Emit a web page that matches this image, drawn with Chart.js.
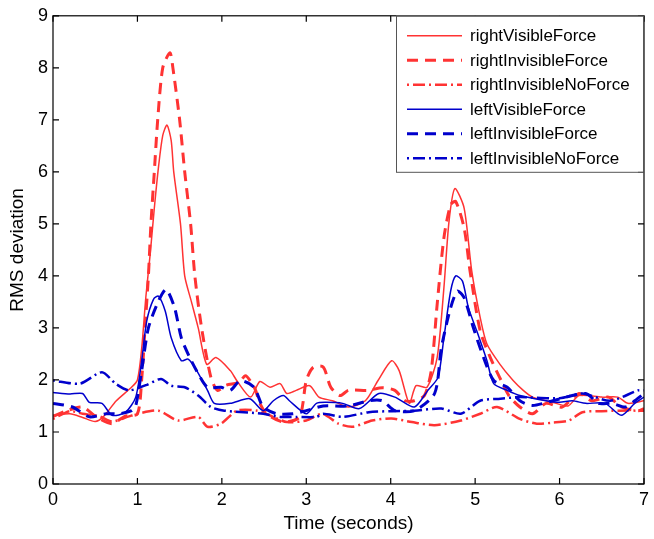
<!DOCTYPE html>
<html>
<head>
<meta charset="utf-8">
<script src="https://cdn.jsdelivr.net/npm/chart.js@4.4.0/dist/chart.umd.min.js"></script>
<style>
html, body { margin: 0; padding: 0; background: #fff; }
</style>
</head>
<body>
<canvas id="chart" width="654" height="539"></canvas>
<script>
// tick values
const xTicks = [0, 1, 2, 3, 4, 5, 6, 7];
const yTicks = [0, 1, 2, 3, 4, 5, 6, 7, 8, 9];

// series names
const seriesNames = ['rightVisibleForce', 'rightInvisibleForce', 'rightInvisibleNoForce',
                     'leftVisibleForce', 'leftInvisibleForce', 'leftInvisibleNoForce'];

// rightVisibleForce
const rvfT = [0, 0.2, 0.35, 0.5, 0.6, 0.75, 0.93, 1.0, 1.05, 1.1, 1.15, 1.2, 1.25, 1.3, 1.35, 1.4, 1.43, 1.51, 1.56, 1.64, 1.72, 1.82, 1.93, 2.1, 2.18, 2.34, 2.45, 2.57, 2.69, 2.77, 2.88, 3.04, 3.15, 3.31, 3.5, 3.7, 3.85, 4.01, 4.1, 4.22, 4.3, 4.43, 4.55, 4.63, 4.69, 4.76, 4.87, 4.96, 5.06, 5.14, 5.29, 5.45, 5.57, 5.68, 5.92, 6.1, 6.23, 6.5, 6.69, 6.81, 7];
const rvfV = [1.32, 1.35, 1.28, 1.2, 1.3, 1.6, 1.86, 2.0, 2.6, 3.6, 4.4, 5.3, 6.1, 6.7, 6.9, 6.6, 6.0, 5.0, 4.0, 3.5, 3.0, 2.3, 2.43, 2.18, 1.98, 1.67, 1.97, 1.86, 1.93, 1.74, 1.8, 1.89, 1.67, 1.6, 1.48, 1.6, 1.99, 2.37, 2.18, 1.55, 1.89, 1.86, 2.43, 3.77, 5.04, 5.68, 5.3, 4.09, 3.2, 2.69, 2.31, 1.99, 1.8, 1.67, 1.57, 1.5, 1.7, 1.67, 1.67, 1.55, 1.6];

// rightInvisibleForce
const rifT = [0, 0.15, 0.35, 0.51, 0.7, 0.85, 1.0, 1.05, 1.09, 1.13, 1.16, 1.2, 1.24, 1.3, 1.385, 1.42, 1.5, 1.56, 1.63, 1.68, 1.76, 1.87, 1.95, 2.05, 2.2, 2.28, 2.35, 2.4, 2.45, 2.53, 2.73, 2.92, 3.0, 3.08, 3.2, 3.29, 3.4, 3.5, 3.73, 3.9, 4.05, 4.17, 4.28, 4.4, 4.48, 4.55, 4.63, 4.71, 4.77, 4.87, 4.94, 5.06, 5.18, 5.29, 5.4, 5.53, 5.68, 5.84, 6.03, 6.23, 6.38, 6.58, 6.73, 6.93, 7];
const rifV = [1.3, 1.4, 1.48, 1.29, 1.16, 1.3, 1.35, 2.0, 3.0, 4.0, 5.0, 6.0, 7.0, 8.0, 8.29, 8.0, 7.0, 6.0, 5.0, 4.0, 3.0, 2.05, 1.8, 1.9, 1.95, 2.08, 1.95, 1.8, 1.55, 1.35, 1.19, 1.29, 1.99, 2.24, 2.25, 1.86, 1.7, 1.8, 1.8, 1.85, 1.8, 1.6, 1.6, 1.7, 2.18, 3.45, 4.73, 5.37, 5.43, 4.92, 4.09, 2.94, 2.43, 2.05, 1.7, 1.48, 1.35, 1.55, 1.48, 1.74, 1.6, 1.67, 1.48, 1.41, 1.45];

// rightInvisibleNoForce
const rinT = [0, 0.2, 0.35, 0.55, 0.7, 0.9, 1.0, 1.25, 1.48, 1.72, 1.83, 1.99, 2.18, 2.42, 2.61, 2.77, 3.0, 3.19, 3.38, 3.55, 3.78, 4.01, 4.25, 4.52, 4.83, 5.06, 5.26, 5.53, 5.73, 5.92, 6.11, 6.27, 6.5, 6.7, 7];
const rinV = [1.25, 1.4, 1.35, 1.3, 1.2, 1.3, 1.35, 1.41, 1.22, 1.29, 1.1, 1.16, 1.41, 1.41, 1.29, 1.19, 1.22, 1.35, 1.16, 1.1, 1.22, 1.26, 1.19, 1.13, 1.22, 1.35, 1.48, 1.25, 1.16, 1.18, 1.22, 1.38, 1.4, 1.41, 1.41];

// leftVisibleForce
const lvfT = [0, 0.2, 0.35, 0.43, 0.58, 0.7, 0.86, 0.98, 1.05, 1.11, 1.19, 1.25, 1.33, 1.4, 1.52, 1.6, 1.68, 1.83, 1.91, 2.1, 2.33, 2.49, 2.61, 2.73, 2.8, 3.0, 3.12, 3.23, 3.43, 3.63, 3.86, 4.05, 4.28, 4.44, 4.56, 4.63, 4.71, 4.77, 4.85, 4.92, 5.02, 5.14, 5.22, 5.38, 5.53, 5.84, 6.0, 6.15, 6.31, 6.54, 6.73, 6.89, 7];
const lvfV = [1.76, 1.73, 1.74, 1.57, 1.55, 1.32, 1.38, 1.67, 2.37, 3.13, 3.55, 3.61, 3.32, 2.81, 2.37, 2.4, 2.24, 1.8, 1.55, 1.55, 1.64, 1.41, 1.6, 1.7, 1.6, 1.35, 1.55, 1.57, 1.55, 1.45, 1.74, 1.67, 1.48, 1.8, 2.05, 2.81, 3.71, 4.0, 3.9, 3.39, 2.94, 2.37, 1.93, 1.8, 1.7, 1.6, 1.57, 1.6, 1.55, 1.55, 1.32, 1.55, 1.67];

// leftInvisibleForce
const lifT = [0, 0.23, 0.43, 0.63, 0.78, 0.93, 0.98, 1.05, 1.13, 1.25, 1.34, 1.44, 1.52, 1.62, 1.72, 1.83, 1.99, 2.1, 2.22, 2.38, 2.49, 2.65, 2.84, 3.0, 3.2, 3.5, 3.74, 3.9, 4.05, 4.28, 4.52, 4.6, 4.71, 4.79, 4.87, 4.98, 5.1, 5.22, 5.38, 5.53, 5.68, 5.92, 6.31, 6.46, 6.62, 6.78, 6.89, 7];
const lifV = [1.55, 1.48, 1.29, 1.35, 1.35, 1.41, 1.5, 2.18, 3.0, 3.52, 3.74, 3.39, 2.81, 2.43, 2.12, 1.86, 1.86, 1.8, 1.99, 1.86, 1.48, 1.35, 1.35, 1.41, 1.5, 1.5, 1.6, 1.6, 1.41, 1.41, 1.74, 2.62, 3.39, 3.71, 3.58, 3.0, 2.43, 1.99, 1.86, 1.6, 1.51, 1.6, 1.74, 1.55, 1.55, 1.48, 1.6, 1.74];

// leftInvisibleNoForce
const linT = [0, 0.32, 0.58, 0.74, 0.9, 1.1, 1.28, 1.4, 1.56, 1.72, 1.87, 2.03, 2.49, 2.69, 2.88, 3.12, 3.2, 3.43, 3.74, 4.0, 4.28, 4.6, 4.83, 5.06, 5.3, 5.53, 6.0, 6.27, 6.6, 6.93, 7];
const linV = [1.99, 1.93, 2.15, 1.93, 1.8, 1.9, 2.02, 1.89, 1.86, 1.7, 1.48, 1.41, 1.35, 1.29, 1.29, 1.29, 1.35, 1.29, 1.38, 1.4, 1.41, 1.45, 1.35, 1.6, 1.64, 1.67, 1.65, 1.74, 1.6, 1.8, 1.8];

const RED = '#ff3333';
const BLUE = '#0000cc';
const DASH = [11, 7];
const DASHDOT = [2, 4, 12, 4];

function pts(t, v) {
    return t.map((x, i) => ({ x: x, y: v[i] }));
}

function makeSet(i, t, v, color, dash, width) {
    return {
        label: seriesNames[i],
        data: pts(t, v),
        borderColor: color,
        borderDash: dash,
        borderWidth: width,
        pointRadius: 0,
        tension: 0.25,
        fill: false,
        order: 6 - i
    };
}

const datasets = [
    makeSet(0, rvfT, rvfV, RED, [], 1.5),
    makeSet(1, rifT, rifV, RED, DASH, 3),
    makeSet(2, rinT, rinV, RED, DASHDOT, 2.5),
    makeSet(3, lvfT, lvfV, BLUE, [], 1.5),
    makeSet(4, lifT, lifV, BLUE, DASH, 3),
    makeSet(5, linT, linV, BLUE, DASHDOT, 2.5)
];

const FONT = '"Liberation Sans", Arial, Helvetica, sans-serif';

// axes box, inward ticks and legend, drawn MATLAB-style
const framePlugin = {
    id: 'frame',
    afterDraw(chart) {
        const { ctx, chartArea: a, scales: { x, y } } = chart;
        ctx.save();
        ctx.strokeStyle = '#000';
        ctx.lineWidth = 1.2;
        ctx.setLineDash([]);
        ctx.strokeRect(a.left, a.top, a.right - a.left, a.bottom - a.top);
        ctx.beginPath();
        xTicks.forEach(v => {
            const px = x.getPixelForValue(v);
            ctx.moveTo(px, a.bottom); ctx.lineTo(px, a.bottom - 6);
            ctx.moveTo(px, a.top); ctx.lineTo(px, a.top + 6);
        });
        yTicks.forEach(v => {
            const py = y.getPixelForValue(v);
            ctx.moveTo(a.left, py); ctx.lineTo(a.left + 6, py);
            ctx.moveTo(a.right, py); ctx.lineTo(a.right - 6, py);
        });
        ctx.stroke();

        // legend
        const lx = 396, ly = a.top, lw = a.right - lx, lh = 156;
        ctx.fillStyle = '#fff';
        ctx.fillRect(lx, ly, lw, lh);
        ctx.strokeStyle = '#555';
        ctx.lineWidth = 1;
        ctx.strokeRect(lx + 0.5, ly + 0.5, lw - 1, lh);
        ctx.font = '17px ' + FONT;
        ctx.textBaseline = 'middle';
        ctx.textAlign = 'left';
        chart.data.datasets.forEach((ds, i) => {
            const ry = ly + 20 + i * 24.5;
            ctx.beginPath();
            ctx.strokeStyle = ds.borderColor;
            ctx.lineWidth = ds.borderWidth;
            ctx.setLineDash(ds.borderDash);
            ctx.moveTo(lx + 11, ry);
            ctx.lineTo(lx + 66, ry);
            ctx.stroke();
            ctx.setLineDash([]);
            ctx.fillStyle = '#000';
            ctx.fillText(ds.label, lx + 74, ry + 1);
        });
        ctx.restore();
    }
};

new Chart(document.getElementById('chart'), {
    type: 'line',
    data: { datasets: datasets },
    plugins: [framePlugin],
    options: {
        responsive: false,
        devicePixelRatio: 1,
        animation: false,
        layout: { padding: { top: 13, right: 1, left: 0, bottom: 0 } },
        plugins: {
            legend: { display: false },
            tooltip: { enabled: false }
        },
        scales: {
            x: {
                type: 'linear',
                min: 0,
                max: 7,
                afterFit(scale) { scale.height = 55; },
                afterBuildTicks(scale) { scale.ticks = xTicks.map(v => ({ value: v })); },
                grid: { display: false, drawTicks: false },
                border: { display: false },
                ticks: { color: '#000', font: { family: FONT, size: 18 }, padding: 5, maxRotation: 0 },
                title: { display: true, text: 'Time (seconds)', color: '#000', font: { family: FONT, size: 19 }, padding: { top: 0, bottom: 4 } }
            },
            y: {
                type: 'linear',
                min: 0,
                max: 9,
                afterFit(scale) { scale.width = 53; },
                afterBuildTicks(scale) { scale.ticks = yTicks.map(v => ({ value: v })); },
                grid: { display: false, drawTicks: false },
                border: { display: false },
                ticks: { color: '#000', font: { family: FONT, size: 18 }, padding: 5 },
                title: { display: true, text: 'RMS deviation', color: '#000', font: { family: FONT, size: 19 }, padding: { top: 6, bottom: 0 } }
            }
        }
    }
});
</script>
</body>
</html>
